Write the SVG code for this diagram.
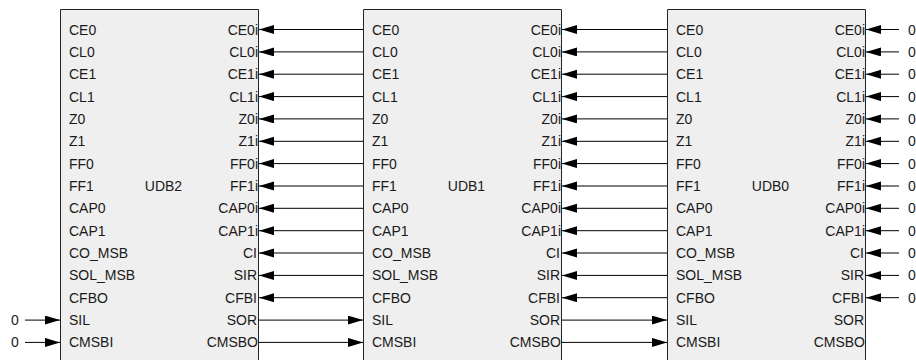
<svg xmlns="http://www.w3.org/2000/svg" width="916" height="360" viewBox="0 0 916 360">
<defs>
<marker id="ah" markerUnits="userSpaceOnUse" markerWidth="15" markerHeight="10" refX="15" refY="4.5" orient="auto">
<path d="M0,0 L15,4.5 L0,9 Z" fill="#000"/>
</marker>
<style>
.blk{fill:#efefef;stroke:#222;stroke-width:1}
.t{font-family:"Liberation Sans",Arial,sans-serif;font-size:14px;fill:#1a1a1a}
.r{text-anchor:end}
.m{text-anchor:middle}
.w{stroke:#000;stroke-width:1;fill:none}
.a{marker-end:url(#ah)}
</style>
</defs>
<rect width="916" height="360" fill="#fff"/>
<g id="UDB2">
<path class="blk" d="M60.5,362 V9.5 H258.5 V362"/>
<g class="t"><text x="69" y="34.5">CE0</text><text x="69" y="56.9">CL0</text><text x="69" y="79.2">CE1</text><text x="69" y="101.6">CL1</text><text x="69" y="123.9">Z0</text><text x="69" y="146.3">Z1</text><text x="69" y="168.6">FF0</text><text x="69" y="191">FF1</text><text x="69" y="213.3">CAP0</text><text x="69" y="235.7">CAP1</text><text x="69" y="258">CO_MSB</text><text x="69" y="280.4">SOL_MSB</text><text x="69" y="302.7">CFBO</text><text x="69" y="325.1">SIL</text><text x="69" y="347.4">CMSBI</text></g>
<g class="t r"><text x="258" y="34.5">CE0i</text><text x="258" y="56.9">CL0i</text><text x="258" y="79.2">CE1i</text><text x="258" y="101.6">CL1i</text><text x="258" y="123.9">Z0i</text><text x="258" y="146.3">Z1i</text><text x="258" y="168.6">FF0i</text><text x="258" y="191">FF1i</text><text x="258" y="213.3">CAP0i</text><text x="258" y="235.7">CAP1i</text><text x="257" y="258">CI</text><text x="257" y="280.4">SIR</text><text x="257" y="302.7">CFBI</text><text x="257" y="325.1">SOR</text><text x="258" y="347.4">CMSBO</text></g>
<text class="t m" x="163.5" y="191">UDB2</text>
</g>
<g id="UDB1">
<path class="blk" d="M363.5,362 V9.5 H561.5 V362"/>
<g class="t"><text x="372" y="34.5">CE0</text><text x="372" y="56.9">CL0</text><text x="372" y="79.2">CE1</text><text x="372" y="101.6">CL1</text><text x="372" y="123.9">Z0</text><text x="372" y="146.3">Z1</text><text x="372" y="168.6">FF0</text><text x="372" y="191">FF1</text><text x="372" y="213.3">CAP0</text><text x="372" y="235.7">CAP1</text><text x="372" y="258">CO_MSB</text><text x="372" y="280.4">SOL_MSB</text><text x="372" y="302.7">CFBO</text><text x="372" y="325.1">SIL</text><text x="372" y="347.4">CMSBI</text></g>
<g class="t r"><text x="561" y="34.5">CE0i</text><text x="561" y="56.9">CL0i</text><text x="561" y="79.2">CE1i</text><text x="561" y="101.6">CL1i</text><text x="561" y="123.9">Z0i</text><text x="561" y="146.3">Z1i</text><text x="561" y="168.6">FF0i</text><text x="561" y="191">FF1i</text><text x="561" y="213.3">CAP0i</text><text x="561" y="235.7">CAP1i</text><text x="560" y="258">CI</text><text x="560" y="280.4">SIR</text><text x="560" y="302.7">CFBI</text><text x="560" y="325.1">SOR</text><text x="561" y="347.4">CMSBO</text></g>
<text class="t m" x="466.5" y="191">UDB1</text>
</g>
<g id="UDB0">
<path class="blk" d="M667.5,362 V9.5 H865.5 V362"/>
<g class="t"><text x="676" y="34.5">CE0</text><text x="676" y="56.9">CL0</text><text x="676" y="79.2">CE1</text><text x="676" y="101.6">CL1</text><text x="676" y="123.9">Z0</text><text x="676" y="146.3">Z1</text><text x="676" y="168.6">FF0</text><text x="676" y="191">FF1</text><text x="676" y="213.3">CAP0</text><text x="676" y="235.7">CAP1</text><text x="676" y="258">CO_MSB</text><text x="676" y="280.4">SOL_MSB</text><text x="676" y="302.7">CFBO</text><text x="676" y="325.1">SIL</text><text x="676" y="347.4">CMSBI</text></g>
<g class="t r"><text x="865" y="34.5">CE0i</text><text x="865" y="56.9">CL0i</text><text x="865" y="79.2">CE1i</text><text x="865" y="101.6">CL1i</text><text x="865" y="123.9">Z0i</text><text x="865" y="146.3">Z1i</text><text x="865" y="168.6">FF0i</text><text x="865" y="191">FF1i</text><text x="865" y="213.3">CAP0i</text><text x="865" y="235.7">CAP1i</text><text x="864" y="258">CI</text><text x="864" y="280.4">SIR</text><text x="864" y="302.7">CFBI</text><text x="864" y="325.1">SOR</text><text x="865" y="347.4">CMSBO</text></g>
<text class="t m" x="770.5" y="191">UDB0</text>
</g>
<g id="connectors" class="w">
<g class="a">
<path d="M363,29.5H259"/><path d="M363,51.9H259"/><path d="M363,74.2H259"/><path d="M363,96.6H259"/><path d="M363,118.9H259"/><path d="M363,141.3H259"/><path d="M363,163.6H259"/><path d="M363,186H259"/><path d="M363,208.3H259"/><path d="M363,230.7H259"/><path d="M363,253H259"/><path d="M363,275.4H259"/><path d="M363,297.7H259"/>
<path d="M259,320.1H363"/><path d="M259,342.4H363"/>
<path d="M667,29.5H562"/><path d="M667,51.9H562"/><path d="M667,74.2H562"/><path d="M667,96.6H562"/><path d="M667,118.9H562"/><path d="M667,141.3H562"/><path d="M667,163.6H562"/><path d="M667,186H562"/><path d="M667,208.3H562"/><path d="M667,230.7H562"/><path d="M667,253H562"/><path d="M667,275.4H562"/><path d="M667,297.7H562"/>
<path d="M562,320.1H667"/><path d="M562,342.4H667"/>
<path d="M899,29.5H866"/><path d="M899,51.9H866"/><path d="M899,74.2H866"/><path d="M899,96.6H866"/><path d="M899,118.9H866"/><path d="M899,141.3H866"/><path d="M899,163.6H866"/><path d="M899,186H866"/><path d="M899,208.3H866"/><path d="M899,230.7H866"/><path d="M899,253H866"/><path d="M899,275.4H866"/><path d="M899,297.7H866"/>
<path d="M25,320.1H60"/><path d="M25,342.4H60"/>
</g>
</g>
<g id="constants" class="t">
<text x="908" y="34.5">0</text><text x="908" y="56.9">0</text><text x="908" y="79.2">0</text><text x="908" y="101.6">0</text><text x="908" y="123.9">0</text><text x="908" y="146.3">0</text><text x="908" y="168.6">0</text><text x="908" y="191">0</text><text x="908" y="213.3">0</text><text x="908" y="235.7">0</text><text x="908" y="258">0</text><text x="908" y="280.4">0</text><text x="908" y="302.7">0</text>
<text x="11" y="325.1">0</text><text x="11" y="347.4">0</text>
</g>
</svg>
